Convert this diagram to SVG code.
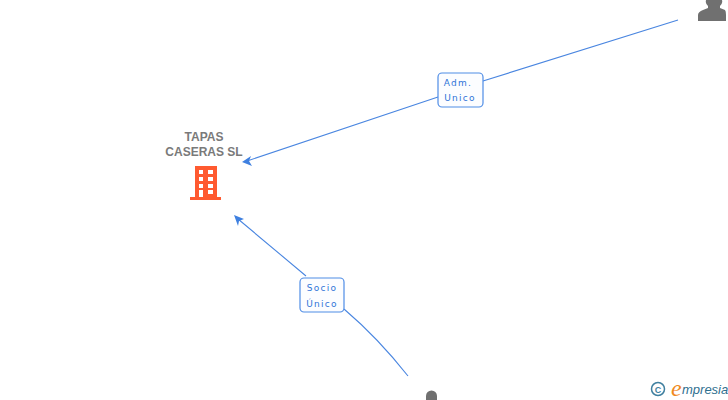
<svg xmlns="http://www.w3.org/2000/svg" width="728" height="400" viewBox="0 0 728 400">
<style>
.conn{fill:none;stroke:#4a86e0;stroke-width:1.1}
.head{fill:#3f80e0}
.box{fill:#fcfdff;stroke:#4f8de6;stroke-width:1.2}
.lbl{font-family:"DejaVu Sans",sans-serif;font-size:9px;fill:#2f74d8;letter-spacing:1.3px;text-anchor:middle}
.name{font-family:"Liberation Sans",Arial,sans-serif;font-size:12px;font-weight:bold;fill:#7a7a7a;text-anchor:middle}
.person{fill:#707070}
</style>
<rect width="728" height="400" fill="#ffffff"/>
<g id="connectors">
<path class="conn" d="M678 20L483 81M438 97L247 161"/>
<path class="head" d="M242 162L251 156L249 161L252 166Z"/>
<path class="conn" d="M408 376Q378 338 344 309M306 276L238 219"/>
<path class="head" d="M234 215L244 219L239 221L238 226Z"/>
</g>
<g id="node-tapas">
<text class="name" x="204" y="141">TAPAS</text>
<text class="name" x="204" y="156">CASERAS SL</text>
<path fill="#ff5a30" fill-rule="evenodd" d="M195 166H217V197H221V200H190V197H195ZM199 170V174H203V170ZM208 170V174H213V170ZM199 177V181H203V177ZM208 177V181H213V177ZM199 184V188H203V184ZM208 184V188H213V184ZM199 190V197H203V190ZM208 190V194H213V190Z"/>
</g>
<g id="node-person-top">
<path class="person" d="M698 21V15Q698 12 703 10L708 8V6Q705 3 706 0H722Q723 3 720 6V8L725 10Q726 11 726 15V21Z"/>
</g>
<g id="node-person-bottom">
<path class="person" d="M426 400V396A5.500 5.500 0 0 1 437 396V400Z"/>
</g>
<g id="edge-adm">
<rect class="box" x="438" y="73" width="45" height="34" rx="4"/>
<text class="lbl" x="458" y="86">Adm.</text>
<text class="lbl" x="460" y="101">Unico</text>
</g>
<g id="edge-socio">
<rect class="box" x="300" y="278" width="44" height="34" rx="4"/>
<text class="lbl" x="322" y="291">Socio</text>
<text class="lbl" x="322" y="307">Único</text>
</g>
<g id="logo">
<circle cx="658" cy="389" r="6.500" fill="none" stroke="#3f7f9f" stroke-width="1.500"/>
<text x="658" y="392.500" font-family="Liberation Sans,sans-serif" font-size="9" font-weight="bold" fill="#3f7f9f" text-anchor="middle">C</text>
<text x="671" y="396" font-family="Liberation Serif,serif" font-size="24" font-style="italic" fill="#f08a1e">e</text>
<text x="682" y="394" font-family="Liberation Sans,sans-serif" font-size="13" font-style="italic" fill="#2f6f8f">mpresia</text>
</g>
</svg>
